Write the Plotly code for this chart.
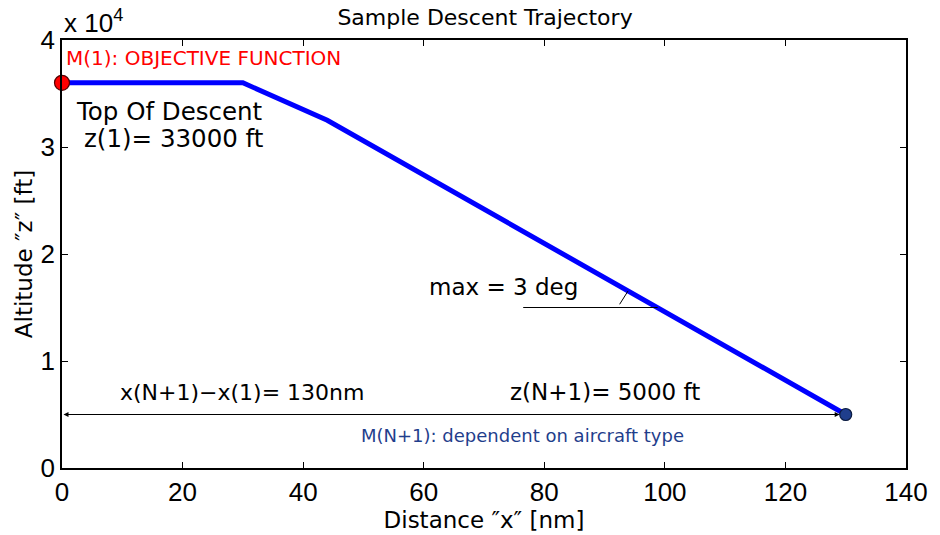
import plotly.graph_objects as go

# ---- data ----
dist = [0, 30, 44, 130]
alt = [36000, 36000, 32500, 5000]
start_x, start_z = [0], [36000]
end_x, end_z = [130], [5000]
ref_x = [76.5, 98.8]
ref_z = [15000, 15000]
arc_x = [92.5, 93.9]
arc_z = [15300, 16550]
x_ticks = [0, 20, 40, 60, 80, 100, 120, 140]
y_ticks = [0, 10000, 20000, 30000, 40000]
y_ticktext = ["0", "1", "2", "3", "4"]
span_x = [0, 129]
span_z = 5000

DJ = "DejaVu Sans, sans-serif"
LIB = "Liberation Sans, Arial, sans-serif"

fig = go.Figure()
fig.add_trace(go.Scatter(x=dist, y=alt, mode="lines",
                         line=dict(color="#0000FF", width=5), hoverinfo="skip"))
fig.add_trace(go.Scatter(x=ref_x, y=ref_z, mode="lines",
                         line=dict(color="black", width=1), hoverinfo="skip"))
fig.add_trace(go.Scatter(x=arc_x, y=arc_z, mode="lines",
                         line=dict(color="black", width=1), hoverinfo="skip"))
fig.add_trace(go.Scatter(x=start_x, y=start_z, mode="markers",
                         marker=dict(color="#FF0000", size=15, line=dict(color="#550000", width=1.2)),
                         cliponaxis=False, hoverinfo="skip"))
fig.add_trace(go.Scatter(x=end_x, y=end_z, mode="markers",
                         marker=dict(color="#1F3E8C", size=12, line=dict(color="#0A1A40", width=1.2)),
                         cliponaxis=False, hoverinfo="skip"))

# double-headed span arrow
fig.add_annotation(x=span_x[1], y=span_z, ax=span_x[0], ay=span_z,
                   xref="x", yref="y", axref="x", ayref="y", text="",
                   showarrow=True, arrowhead=2, arrowside="end+start",
                   arrowsize=1, arrowwidth=1, arrowcolor="black")

def txt(x, y, s, size, color="black", family=DJ, xanchor="center"):
    fig.add_annotation(x=x, y=y, xref="x", yref="y", text=s, showarrow=False,
                       font=dict(size=size, color=color, family=family), xanchor=xanchor)

txt(0.3, 38340, "M(1): OBJECTIVE FUNCTION", 20, color="#FF0000", xanchor="left")
txt(17.8, 33360, "Top Of Descent", 24.5)
txt(18.6, 30780, "z(1)= 33000 ft", 24.5)
txt(73.3, 16960, "max = 3 deg", 23)
txt(29.8, 7100, "x(N+1)\u2212x(1)= 130nm", 22)
txt(90, 7100, "z(N+1)= 5000 ft", 23)
txt(76.4, 3040, "M(N+1): dependent on aircraft type", 18, color="#1F3E8C")

# x 10^4 exponent label
fig.add_annotation(x=0, y=1.0, xref="paper", yref="paper", xanchor="left", yanchor="bottom",
                   text="x 10<sup>4</sup>", showarrow=False, yshift=0,
                   font=dict(size=26, color="black", family=LIB))

axis_common = dict(showgrid=False, zeroline=False, showline=True, linecolor="black",
                   linewidth=1.5, mirror="ticks", ticks="inside", ticklen=6,
                   tickcolor="black", tickwidth=1)

fig.update_layout(
    width=940, height=535,
    margin=dict(l=62, r=28, t=40, b=61),
    paper_bgcolor="white", plot_bgcolor="white",
    showlegend=False,
    title=dict(text="Sample Descent Trajectory", x=0.516, xanchor="center", y=0.982, yanchor="top",
               font=dict(size=22, family=DJ, color="black")),
    xaxis=dict(range=[0, 140], tickvals=x_ticks, **axis_common,
               tickfont=dict(size=26, family=LIB, color="black"),
               title=dict(text="Distance \u2033x\u2033 [nm]", standoff=0,
                          font=dict(size=23, family=DJ, color="black"))),
    yaxis=dict(range=[0, 40000], tickvals=y_ticks, ticktext=y_ticktext, **axis_common,
               tickfont=dict(size=26, family=LIB, color="black"),
               title=dict(text="Altitude \u2033z\u2033 [ft]", standoff=2,
                          font=dict(size=23, family=DJ, color="black"))),
)

fig.write_html("out.html")
